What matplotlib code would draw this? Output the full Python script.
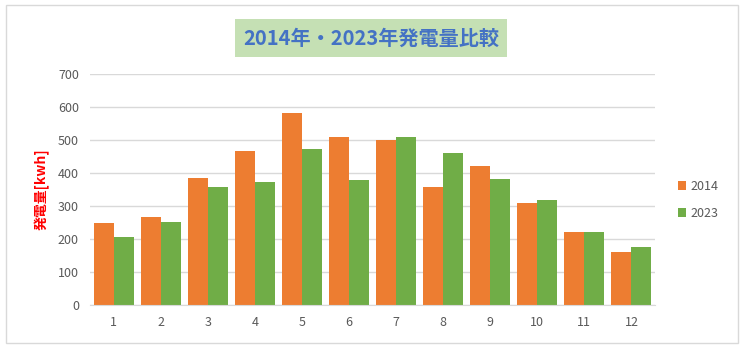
import matplotlib
matplotlib.use('Agg')
import matplotlib.pyplot as plt
import numpy as np
from matplotlib.patches import Rectangle

plt.rcParams['font.family'] = ['Noto Sans CJK JP', 'DejaVu Sans']

months = ['1', '2', '3', '4', '5', '6', '7', '8', '9', '10', '11', '12']
gen_2014 = [249, 267, 385, 467, 583, 510, 501, 358, 422, 310, 222, 161]
gen_2023 = [206, 252, 358, 373, 473, 379, 510, 461, 382, 319, 222, 176]
series_names = ['2014', '2023']
colors = ['#ED7D31', '#70AD47']

fig = plt.figure(figsize=(7.53, 3.55), dpi=100)
# outer chart frame
fig.patches.append(Rectangle((6 / 753, 12 / 355), 732 / 753, 338 / 355,
                             transform=fig.transFigure, fill=False,
                             edgecolor='#D9D9D9', linewidth=1))

ax = fig.add_axes([90 / 753, 50 / 355, 565 / 753, 231 / 355])
x = np.arange(len(months))
w = 0.425
ax.bar(x - w / 2, gen_2014, width=w, color=colors[0], label=series_names[0])
ax.bar(x + w / 2, gen_2023, width=w, color=colors[1], label=series_names[1])

ax.set_xlim(-0.5, len(months) - 0.5)
ax.set_ylim(0, 700)
ax.set_yticks(range(0, 701, 100))
ax.set_xticks(x)
ax.set_xticklabels(months)
ax.yaxis.grid(True, color='#D9D9D9', linewidth=1)
ax.set_axisbelow(True)
for side in ['top', 'right', 'left']:
    ax.spines[side].set_visible(False)
ax.spines['bottom'].set_color('#D9D9D9')
ax.tick_params(axis='both', length=0, labelsize=9, colors='#595959', pad=8)

ax.set_ylabel('発電量[kwh]', color='#FF0000', fontsize=10, fontweight='bold', labelpad=6)

fig.text(371 / 753, 1 - 38 / 355, '2014年・2023年発電量比較', ha='center', va='center',
         fontsize=14.5, fontweight='bold', color='#4472C4',
         bbox=dict(boxstyle='square,pad=0.4', facecolor='#C5E0B4', edgecolor='none'))

ax.legend(loc='center left', bbox_to_anchor=(1.02, 0.455), frameon=False,
          fontsize=9, labelcolor='#595959', handlelength=0.7, handleheight=0.7,
          labelspacing=1.15, handletextpad=0.3)

fig.savefig('out.png', dpi=100)
